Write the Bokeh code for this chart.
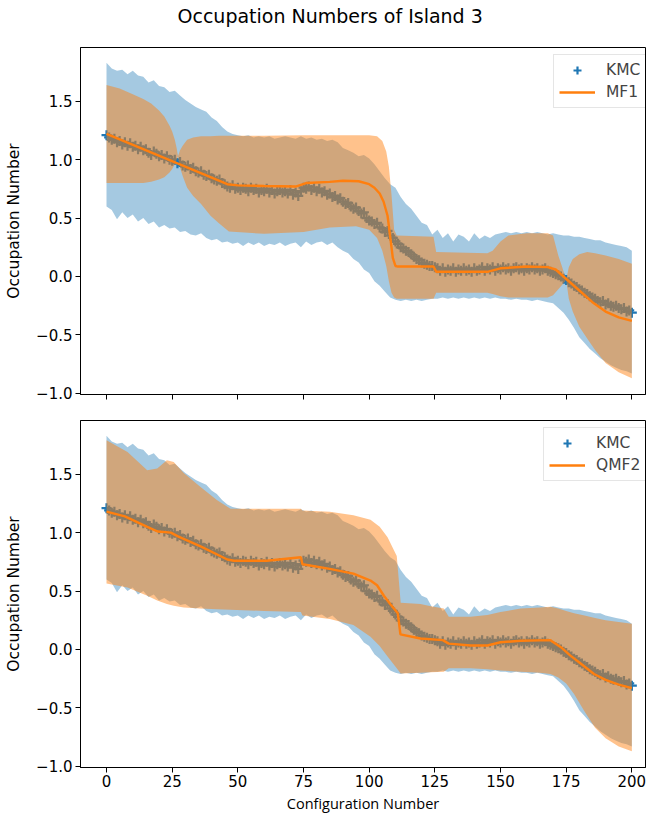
from bokeh.plotting import figure
from bokeh.models import Range1d, FixedTicker, CustomJSTickFormatter, Title
from bokeh.layouts import column
from bokeh.embed import file_html
from bokeh.resources import INLINE

# ---------------- data ----------------
kmc_x = list(range(0, 201))
kmc_mean = [
    1.21, 1.19, 1.17, 1.18, 1.15, 1.16, 1.13, 1.15, 1.12, 1.14, 1.11, 1.12, 1.09, 1.11, 1.08, 1.09, 1.06, 1.04, 1.07, 1.05, 1.03, 1.04, 1.01, 1.03, 1.00, 0.99,
    1.00, 0.97, 0.98, 0.95, 0.94, 0.95, 0.92, 0.93, 0.90, 0.89, 0.90, 0.87, 0.86, 0.87, 0.84, 0.83, 0.82, 0.83, 0.80, 0.79, 0.77, 0.76, 0.78, 0.75, 0.76,
    0.74, 0.76, 0.75, 0.73, 0.76, 0.74, 0.75, 0.72, 0.74, 0.73, 0.75, 0.72, 0.74, 0.71, 0.73, 0.74, 0.72, 0.73, 0.71, 0.74, 0.70, 0.72, 0.69, 0.73, 0.76,
    0.75, 0.77, 0.74, 0.76, 0.73, 0.75, 0.72, 0.73, 0.70, 0.71, 0.68, 0.69, 0.66, 0.67, 0.64, 0.62, 0.63, 0.60, 0.58, 0.59, 0.56, 0.54, 0.55, 0.50, 0.48,
    0.47, 0.45, 0.46, 0.42, 0.41, 0.38, 0.39, 0.35, 0.33, 0.30, 0.28, 0.25, 0.24, 0.22, 0.21, 0.19, 0.17, 0.15, 0.14, 0.12, 0.11, 0.10, 0.09, 0.09, 0.08,
    0.07, 0.05, 0.07, 0.04, 0.06, 0.05, 0.07, 0.04, 0.06, 0.05, 0.07, 0.05, 0.06, 0.04, 0.07, 0.05, 0.06, 0.08, 0.05, 0.07, 0.06, 0.08, 0.05, 0.07, 0.06,
    0.08, 0.06, 0.07, 0.05, 0.07, 0.08, 0.06, 0.07, 0.05, 0.07, 0.06, 0.08, 0.06, 0.07, 0.05, 0.06, 0.07, 0.05, 0.04, 0.03, 0.02, 0.01, 0.00, -0.02, -0.03,
    -0.05, -0.06, -0.08, -0.09, -0.11, -0.12, -0.14, -0.15, -0.17, -0.18, -0.19, -0.21, -0.22, -0.21, -0.24, -0.23, -0.25, -0.26, -0.25, -0.27, -0.28, -0.27, -0.30, -0.29, -0.31,
]

kmc_band_x = list(range(0, 201, 2))
kmc_hi = [
    1.83, 1.78, 1.76, 1.77, 1.73, 1.76, 1.72, 1.71, 1.66, 1.68, 1.63, 1.62, 1.58, 1.59, 1.55, 1.51, 1.48, 1.45, 1.43, 1.41, 1.36, 1.33, 1.28, 1.24, 1.22, 1.21,
    1.20, 1.21, 1.19, 1.20, 1.19, 1.20, 1.18, 1.19, 1.20, 1.19, 1.18, 1.20, 1.18, 1.19, 1.17, 1.18, 1.16, 1.17, 1.15, 1.10, 1.08, 1.06, 1.03, 1.04, 1.01,
    0.96, 0.90, 0.84, 0.79, 0.76, 0.68, 0.62, 0.58, 0.52, 0.46, 0.44, 0.36, 0.40, 0.33, 0.37, 0.30, 0.36, 0.34, 0.30, 0.37, 0.32, 0.35, 0.33, 0.36, 0.37,
    0.38, 0.37, 0.38, 0.37, 0.38, 0.37, 0.38, 0.37, 0.36, 0.37, 0.36, 0.35, 0.35, 0.34, 0.34, 0.33, 0.32, 0.31, 0.31, 0.29, 0.28, 0.27, 0.26, 0.25, 0.22,
]
kmc_lo = [
    0.60, 0.57, 0.49, 0.55, 0.50, 0.53, 0.47, 0.50, 0.45, 0.47, 0.42, 0.44, 0.41, 0.42, 0.38, 0.39, 0.36, 0.35, 0.37, 0.33, 0.31, 0.32, 0.29, 0.30, 0.28, 0.29,
    0.26, 0.29, 0.27, 0.29, 0.26, 0.28, 0.27, 0.29, 0.26, 0.28, 0.29, 0.25, 0.30, 0.27, 0.29, 0.30, 0.27, 0.29, 0.25, 0.22, 0.20, 0.15, 0.12, 0.06, 0.03,
    -0.04, -0.08, -0.13, -0.18, -0.20, -0.21, -0.20, -0.21, -0.20, -0.21, -0.20, -0.19, -0.19, -0.18, -0.19, -0.18, -0.19, -0.18, -0.19, -0.18, -0.19, -0.18, -0.19, -0.18, -0.19,
    -0.19, -0.20, -0.19, -0.20, -0.20, -0.21, -0.20, -0.21, -0.22, -0.23, -0.27, -0.31, -0.37, -0.44, -0.52, -0.57, -0.62, -0.66, -0.70, -0.73, -0.76, -0.78, -0.80, -0.81, -0.83,
]

mf1_x = [0, 46, 50, 60, 72, 76, 85, 90, 96, 100, 102, 104, 105.5, 107, 108, 109, 110, 111, 124.5, 125.5,
         145, 150, 160, 168, 171, 174, 177, 180, 185, 190, 195, 200]
mf1_mean = [1.22, 0.79, 0.78, 0.775, 0.77, 0.80, 0.81, 0.82, 0.815, 0.79, 0.76, 0.71, 0.64, 0.52, 0.34, 0.16, 0.09, 0.085, 0.085, 0.04,
            0.04, 0.07, 0.085, 0.08, 0.06, 0.0, -0.06, -0.12, -0.22, -0.30, -0.35, -0.38]

mf1_band_x = [0, 5, 10, 14, 17, 20, 22, 24, 25, 26, 26.7, 27.2, 28, 29, 30.7, 33, 36, 39.6, 42.8, 46.6,
              60, 75, 85, 95, 100, 103, 105, 106.5, 107.5, 108.5, 109.5, 110.5, 124.5, 125.5, 145, 147, 150, 153, 160, 168,
              170, 172, 173.5, 175, 176, 177.5, 180, 183, 186, 190, 195, 200]
mf1_hi = [1.64, 1.61, 1.56, 1.52, 1.48, 1.42, 1.37, 1.29, 1.24, 1.17, 1.10, 1.03, 1.08, 1.12, 1.17, 1.19, 1.20, 1.20, 1.205, 1.205,
          1.205, 1.21, 1.21, 1.21, 1.21, 1.20, 1.16, 1.07, 0.94, 0.70, 0.40, 0.35, 0.34, 0.21, 0.20, 0.22, 0.30, 0.35, 0.37, 0.37,
          0.35, 0.18, 0.08, -0.03, 0.08, 0.15, 0.19, 0.21, 0.20, 0.18, 0.15, 0.11]
mf1_lo = [0.80, 0.80, 0.80, 0.80, 0.81, 0.83, 0.85, 0.89, 0.92, 0.96, 1.00, 1.03, 0.93, 0.86, 0.76, 0.69, 0.62, 0.52, 0.455, 0.385,
          0.365, 0.38, 0.42, 0.43, 0.40, 0.33, 0.22, 0.09, -0.04, -0.14, -0.18, -0.19, -0.19, -0.14, -0.14, -0.15, -0.17, -0.18, -0.18, -0.18,
          -0.16, -0.11, -0.07, -0.03, -0.19, -0.30, -0.43, -0.53, -0.63, -0.74, -0.82, -0.87]

qmf2_x = [0, 7, 15.5, 19.5, 24.5, 27, 36, 46, 48.5, 61, 74, 74.6, 85, 94, 100.5, 103, 105.6, 108, 110.9, 111.9,
          119.5, 128, 130.3, 138.6, 145, 150, 157.7, 169, 173, 176.5, 180.5, 185.6, 190, 195, 200]
qmf2_mean = [1.18, 1.14, 1.05, 1.01, 1.00, 0.97, 0.88, 0.77, 0.76, 0.76, 0.79, 0.73, 0.69, 0.65, 0.59, 0.55, 0.46, 0.39, 0.31, 0.13,
             0.094, 0.08, 0.05, 0.034, 0.034, 0.062, 0.075, 0.08, 0.02, -0.05, -0.12, -0.21, -0.26, -0.30, -0.33]

qmf2_band_x = [0, 8, 15.5, 19.3, 23, 25.6, 29.4, 35.8, 42, 47.2, 60, 74, 74.6, 85, 94, 100.5, 104, 107, 110.5, 112,
               119.5, 123.5, 128.4, 130.3, 138.6, 145, 150, 157.7, 165, 169, 172, 175, 178, 182, 186, 190, 195, 200]
qmf2_hi = [1.79, 1.69, 1.535, 1.55, 1.62, 1.605, 1.51, 1.39, 1.28, 1.205, 1.205, 1.205, 1.19, 1.18, 1.15, 1.11, 1.05, 0.96, 0.80, 0.40,
           0.39, 0.37, 0.35, 0.28, 0.28, 0.295, 0.32, 0.35, 0.36, 0.365, 0.35, 0.33, 0.31, 0.29, 0.27, 0.25, 0.235, 0.22]
qmf2_lo = [0.565, 0.53, 0.46, 0.42, 0.39, 0.375, 0.36, 0.35, 0.345, 0.34, 0.33, 0.32, 0.29, 0.26, 0.21, 0.11, 0.03, -0.06, -0.16, -0.205,
           -0.20, -0.195, -0.19, -0.16, -0.16, -0.17, -0.18, -0.19, -0.20, -0.21, -0.24, -0.29, -0.38, -0.53, -0.67, -0.76, -0.83, -0.87]

x_ticks = [0, 25, 50, 75, 100, 125, 150, 175, 200]
y_ticks = [-1.0, -0.5, 0.0, 0.5, 1.0, 1.5]

title_text = "Occupation Numbers of Island 3"
y_label = "Occupation Number"
x_label = "Configuration Number"

BLUE = "#1f77b4"
ORANGE = "#ff7f0e"
FONT = "DejaVu Sans"

x_range = Range1d(-9.9, 205.2)


def make_panel(model_label, band_x, band_hi, band_lo, line_x, line_y, top_border, bottom_border,
               show_x_labels, legend_x):
    p = figure(frame_width=565, frame_height=347, x_range=x_range, y_range=Range1d(-1.01, 1.96),
               output_backend="svg", toolbar_location=None, title=None,
               min_border_left=80, min_border_right=1, min_border_top=top_border,
               min_border_bottom=bottom_border,
               background_fill_color="white", border_fill_color="white")
    p.outline_line_color = "black"
    p.outline_line_width = 1
    p.xgrid.visible = False
    p.ygrid.visible = False

    p.varea(x=kmc_band_x, y1=kmc_lo, y2=kmc_hi, fill_color=BLUE, fill_alpha=0.4)
    p.scatter(kmc_x, kmc_mean, marker="cross", size=10, line_width=2.2, color=BLUE, legend_label="KMC")
    p.varea(x=band_x, y1=band_lo, y2=band_hi, fill_color=ORANGE, fill_alpha=0.48)
    p.line(line_x, line_y, line_color=ORANGE, line_width=2.4, legend_label=model_label)

    for ax in (p.xaxis[0], p.yaxis[0]):
        ax.axis_line_color = "black"
        ax.major_tick_line_color = "black"
        ax.major_tick_out = 5
        ax.major_tick_in = 0
        ax.minor_tick_line_color = None
        ax.major_label_text_font = FONT
        ax.major_label_text_font_size = "15px"
        ax.major_label_text_color = "black"
        ax.major_label_standoff = 3
        ax.axis_label_text_color = "black"

    p.xaxis.ticker = FixedTicker(ticks=x_ticks)
    p.yaxis.ticker = FixedTicker(ticks=y_ticks)
    p.yaxis.formatter = CustomJSTickFormatter(
        code="return (tick < 0 ? '\u2212' : '') + Math.abs(tick).toFixed(1);")
    p.yaxis.axis_label = y_label
    p.yaxis.axis_label_text_font = FONT
    p.yaxis.axis_label_text_font_size = "15.5px"
    p.yaxis.axis_label_text_font_style = "normal"
    p.yaxis.axis_label_standoff = 10

    if show_x_labels:
        p.xaxis.axis_label = x_label
        p.xaxis.axis_label_text_font = "Open Sans"
        p.xaxis.axis_label_text_font_size = "14.5px"
        p.xaxis.axis_label_text_font_style = "normal"
        p.xaxis.axis_label_standoff = 4
        p.xaxis.major_label_standoff = 2
    else:
        p.xaxis.formatter = CustomJSTickFormatter(code="return '';")

    lg = p.legend[0]
    lg.location = (legend_x, 286)
    lg.margin = 0
    lg.padding = 5
    lg.spacing = 2
    lg.glyph_width = 36
    lg.glyph_height = 20
    lg.label_height = 20
    lg.label_standoff = 11
    lg.label_text_font = FONT
    lg.label_text_font_size = "15.5px"
    lg.border_line_color = "#cccccc"
    lg.border_line_width = 1
    lg.background_fill_alpha = 0.8
    return p


p1 = make_panel("MF1", mf1_band_x, mf1_hi, mf1_lo, mf1_x, mf1_mean, 47, 16, False, 473)
# spacer between the title and the frame, then the title itself
p1.add_layout(Title(text=" ", text_font_size="1px", standoff=17), "above")
p1.add_layout(Title(text=title_text, align="left", offset=97, standoff=2,
                    text_font=FONT, text_font_size="19px", text_font_style="normal",
                    text_color="black"), "above")

p2 = make_panel("QMF2", qmf2_band_x, qmf2_hi, qmf2_lo, qmf2_x, qmf2_mean, 10, 38, True, 463)

layout = column(p1, p2, spacing=0)

with open("out.html", "w", encoding="utf-8") as f:
    f.write(file_html(layout, INLINE))
